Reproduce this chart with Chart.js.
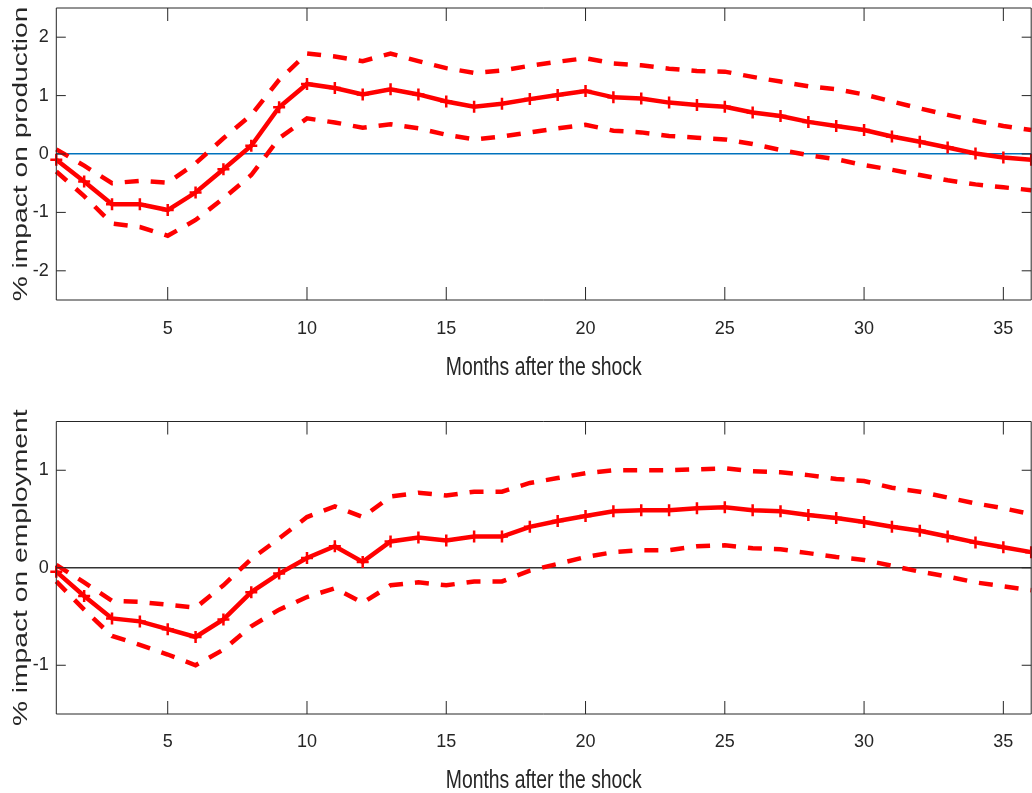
<!DOCTYPE html>
<html><head><meta charset="utf-8">
<script src="https://cdn.jsdelivr.net/npm/chart.js@4.4.1/dist/chart.umd.min.js"></script>
<style>
html,body{margin:0;padding:0;background:#fff;width:1032px;height:793px;overflow:hidden}
.box{position:absolute;left:0;width:1032px}
</style></head><body>
<div class="box" style="top:0;height:400px"><canvas id="c1" width="1032" height="400"></canvas></div>
<div class="box" style="top:400px;height:393px"><canvas id="c2" width="1032" height="393"></canvas></div>
<script>
const months = Array.from({length: 36}, (_, i) => i + 1);
const prodIrf   = [-0.10,-0.47,-0.86,-0.86,-0.96,-0.66,-0.26,0.14,0.80,1.20,1.13,1.02,1.11,1.02,0.90,0.81,0.86,0.94,1.01,1.08,0.97,0.95,0.88,0.84,0.81,0.71,0.65,0.55,0.48,0.41,0.30,0.21,0.11,0.01,-0.06,-0.10];
const prodUpper = [0.08,-0.20,-0.50,-0.46,-0.49,-0.16,0.27,0.67,1.27,1.72,1.67,1.59,1.72,1.59,1.47,1.39,1.43,1.51,1.58,1.64,1.55,1.52,1.46,1.42,1.41,1.32,1.24,1.16,1.11,1.02,0.90,0.78,0.67,0.57,0.48,0.41];
const prodLower = [-0.30,-0.72,-1.19,-1.25,-1.40,-1.13,-0.76,-0.36,0.27,0.61,0.54,0.45,0.51,0.44,0.33,0.25,0.30,0.37,0.44,0.50,0.40,0.37,0.31,0.28,0.25,0.17,0.07,-0.02,-0.09,-0.19,-0.27,-0.36,-0.45,-0.52,-0.57,-0.62];
const empIrf   = [-0.04,-0.29,-0.52,-0.55,-0.63,-0.71,-0.53,-0.25,-0.06,0.10,0.22,0.06,0.27,0.31,0.28,0.32,0.32,0.42,0.48,0.53,0.58,0.59,0.59,0.61,0.62,0.59,0.58,0.54,0.51,0.47,0.42,0.38,0.32,0.26,0.21,0.16];
const empUpper = [0.03,-0.15,-0.34,-0.35,-0.38,-0.41,-0.18,0.09,0.30,0.52,0.63,0.52,0.73,0.77,0.74,0.78,0.78,0.87,0.92,0.97,1.00,1.00,1.00,1.01,1.02,0.99,0.98,0.95,0.91,0.89,0.82,0.78,0.72,0.66,0.61,0.55];
const empLower = [-0.14,-0.43,-0.70,-0.79,-0.89,-1.00,-0.84,-0.60,-0.43,-0.30,-0.21,-0.36,-0.18,-0.15,-0.18,-0.14,-0.14,-0.03,0.04,0.11,0.16,0.18,0.18,0.22,0.23,0.20,0.19,0.15,0.11,0.08,0.02,-0.04,-0.09,-0.15,-0.19,-0.23];
const xTicks = [5,10,15,20,25,30,35];
const prodYTicks = [-2,-1,0,1,2];
const empYTicks = [-1,0,1];
const xTitle = 'Months after the shock';
const prodTitle = '% impact on production';
const empTitle = '% impact on employment';

const SANS = "'Liberation Sans', Arial, Helvetica, sans-serif";
const AXIS = '#262626';
const RED = '#ff0000';

const pts = arr => arr.map((v, i) => ({x: months[i], y: v}));

const framePlugin = {
  id: 'frame',
  afterDatasetsDraw(chart, args, opts) {
    const {ctx, chartArea: {left, right, top, bottom}, scales: {x, y}} = chart;
    ctx.save();
    ctx.strokeStyle = AXIS;
    ctx.lineWidth = 1;
    ctx.beginPath();
    ctx.rect(left, top, right - left, bottom - top);
    for (const v of xTicks) {
      const px = x.getPixelForValue(v);
      ctx.moveTo(px, bottom); ctx.lineTo(px, bottom - 13);
      ctx.moveTo(px, top); ctx.lineTo(px, top + 13);
    }
    for (const t of y.ticks) {
      const py = y.getPixelForValue(t.value);
      ctx.moveTo(left, py); ctx.lineTo(left + 9.5, py);
      ctx.moveTo(right, py); ctx.lineTo(right - 9.5, py);
    }
    ctx.stroke();
    ctx.fillStyle = AXIS;
    ctx.textAlign = 'center';
    ctx.textBaseline = 'alphabetic';
    // x title, horizontally condensed like the original
    ctx.save();
    ctx.font = '26px ' + SANS;
    ctx.translate((left + right) / 2, opts.xTitleBase);
    ctx.scale(0.745, 1);
    ctx.fillText(opts.xText, 0, 0);
    ctx.restore();
    // rotated y title, stretched along its length
    ctx.font = '20px ' + SANS;
    ctx.textBaseline = 'middle';
    ctx.translate(21, (top + bottom) / 2);
    ctx.rotate(-Math.PI / 2);
    ctx.scale(opts.stretch, 1);
    ctx.fillText(opts.text, 0, 0);
    ctx.restore();
  }
};

const noPad = s => { s.paddingLeft = 0; s.paddingRight = 0; s.paddingTop = 0; s.paddingBottom = 0; };

function makeChart(id, irf, up, lo, yMin, yMax, yTicks, yTitle, zeroColor, padTop, xHeight, tickPad, titleBase) {
  return new Chart(document.getElementById(id), {
    type: 'line',
    data: {
      datasets: [
        {data: pts(up), borderColor: RED, borderWidth: 4.5, borderDash: [14, 12], pointRadius: 0, fill: false},
        {data: pts(lo), borderColor: RED, borderWidth: 4.5, borderDash: [14, 12], pointRadius: 0, fill: false},
        {data: pts(irf), borderColor: RED, borderWidth: 4.5, pointStyle: 'cross', pointRadius: 6,
         pointBorderWidth: 2.5, pointBorderColor: RED, pointBackgroundColor: RED, fill: false}
      ]
    },
    options: {
      responsive: false,
      animation: false,
      devicePixelRatio: 1,
      events: [],
      layout: {autoPadding: false, padding: {left: 0, right: 0.8, top: padTop, bottom: 0}},
      elements: {line: {tension: 0}},
      datasets: {line: {clip: false}},
      plugins: {legend: {display: false}, tooltip: {enabled: false},
        frame: {text: yTitle, stretch: 1.41, xText: xTitle, xTitleBase: titleBase}},
      scales: {
        x: {
          type: 'linear', min: 1, max: 36,
          afterBuildTicks: s => { s.ticks = xTicks.map(v => ({value: v})); },
          afterFit: s => { s.height = xHeight; noPad(s); },
          grid: {display: false, drawTicks: false},
          border: {display: false},
          ticks: {padding: tickPad, color: AXIS, font: {family: SANS, size: 18}, maxRotation: 0, autoSkip: false}
        },
        y: {
          type: 'linear', min: yMin, max: yMax,
          afterBuildTicks: s => { s.ticks = yTicks.map(v => ({value: v})); },
          afterFit: s => { s.width = 56.3; noPad(s); },
          grid: {drawTicks: false, lineWidth: 1.5,
                 color: c => (c.tick && c.tick.value === 0) ? zeroColor : 'rgba(0,0,0,0)'},
          border: {display: false},
          ticks: {padding: 7.5, color: AXIS, font: {family: SANS, size: 18}}
        }
      }
    },
    plugins: [framePlugin]
  });
}

makeChart('c1', prodIrf, prodUpper, prodLower, -2.5, 2.5, prodYTicks, prodTitle, '#0072BD', 8, 100, 18, 375);
makeChart('c2', empIrf, empUpper, empLower, -1.5, 1.5, empYTicks, empTitle, '#333333', 21.5, 79, 17, 387.7);
</script>
</body></html>
